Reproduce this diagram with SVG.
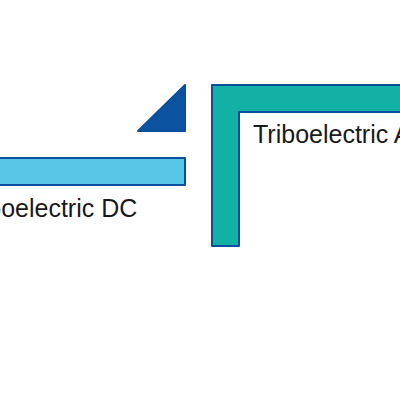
<svg xmlns="http://www.w3.org/2000/svg" width="400" height="400" viewBox="0 0 400 400">
<style>
.lbl{font-family:"Liberation Sans",Arial,sans-serif;font-size:25px;fill:#1a1a1a}
.edge{stroke:#0b4f9c;stroke-width:2;stroke-linejoin:round}
</style>
<rect width="400" height="400" fill="#ffffff"/>
<g id="triangle">
<polygon points="138,131 185,85 185,131" fill="#0a52a0" class="edge"/>
</g>
<g id="dc-bar">
<rect x="-5" y="158" width="190" height="27" fill="#57c6e6" class="edge"/>
<text class="lbl" x="-41" y="217">Triboelectric DC</text>
</g>
<g id="ac-frame">
<path d="M212,85 H410 V112 H239 V246 H212 Z" fill="#13b0a5" class="edge"/>
<text class="lbl" x="253" y="143">Triboelectric AC</text>
</g>
<g id="connectors"/>
</svg>
